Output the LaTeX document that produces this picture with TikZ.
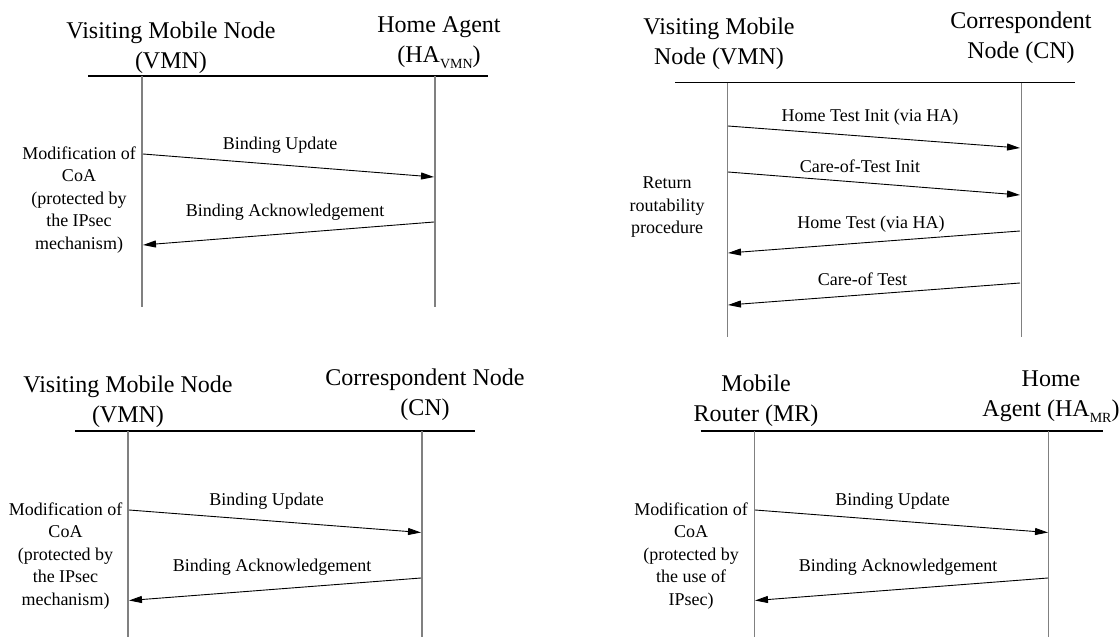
\documentclass[tikz,border=0pt]{standalone}
\usepackage{fontspec}
\setmainfont{Liberation Serif}
\usetikzlibrary{arrows.meta}
\newcommand{\bigfont}{\fontsize{24}{30}\selectfont}
\newcommand{\smallfont}{\fontsize{18}{22.5}\selectfont}
\newcommand{\subtxt}[1]{\raisebox{-6pt}{\fontsize{14}{14}\selectfont #1}}
\tikzset{
  actor/.style={align=center, inner sep=0pt, font=\bigfont},
  note/.style={align=center, inner sep=0pt, font=\smallfont},
  msglabel/.style={inner sep=0pt, font=\smallfont},
  header/.style={draw=black, line width=1.2pt},
  lifeline/.style={draw=black!50, line width=1.4pt},
  msg/.style={draw=black, line width=0.9pt, -{Triangle[length=13pt,width=7pt]}}
}
\begin{document}
\begin{tikzpicture}[x=1pt,y=-1pt]
\useasboundingbox (0,0) rectangle (1119,637);

% ---------------- Panel 1 (top left) ----------------
\node[actor] (p1a) at (171,48) {Visiting Mobile Node\\(VMN)};
\node[actor] (p1b) at (439,43) {Home Agent\\(HA\subtxt{VMN})};
\coordinate (p1hl) at (88,76);
\coordinate (p1hr) at (488,76);
\draw[header] (p1hl) -- (p1hr);
\coordinate (p1at) at (142,76);
\coordinate (p1ab) at (142,307);
\coordinate (p1bt) at (435,76);
\coordinate (p1bb) at (435,307);
\draw[lifeline] (p1at) -- (p1ab);
\draw[lifeline] (p1bt) -- (p1bb);
\node[note] (p1n) at (79,200) {Modification of\\CoA\\(protected by\\the IPsec\\mechanism)};
\coordinate (p1m1s) at (143,154);
\coordinate (p1m1e) at (434,177);
\coordinate (p1m2s) at (434,222);
\coordinate (p1m2e) at (143,245);
\draw[msg] (p1m1s) -- (p1m1e);
\draw[msg] (p1m2s) -- (p1m2e);
\node[msglabel] (p1l1) at (280,145.5) {Binding Update};
\node[msglabel] (p1l2) at (285,212.5) {Binding Acknowledgement};

% ---------------- Panel 2 (top right) ----------------
\node[actor] (p2a) at (719,44) {Visiting Mobile\\Node (VMN)};
\node[actor] (p2b) at (1021,38) {Correspondent\\Node (CN)};
\coordinate (p2hl) at (675,82.5);
\coordinate (p2hr) at (1075,82.5);
\draw[header] (p2hl) -- (p2hr);
\coordinate (p2at) at (727.5,82.5);
\coordinate (p2ab) at (727.5,337);
\coordinate (p2bt) at (1021.5,82.5);
\coordinate (p2bb) at (1021.5,337);
\draw[lifeline] (p2at) -- (p2ab);
\draw[lifeline] (p2bt) -- (p2bb);
\node[note] (p2n) at (667,207.5) {Return\\routability\\procedure};
\coordinate (p2m1s) at (728,126);
\coordinate (p2m1e) at (1020,148);
\coordinate (p2m2s) at (728,172);
\coordinate (p2m2e) at (1020,195);
\coordinate (p2m3s) at (1020,231);
\coordinate (p2m3e) at (728,253);
\coordinate (p2m4s) at (1020,283);
\coordinate (p2m4e) at (728,305);
\draw[msg] (p2m1s) -- (p2m1e);
\draw[msg] (p2m2s) -- (p2m2e);
\draw[msg] (p2m3s) -- (p2m3e);
\draw[msg] (p2m4s) -- (p2m4e);
\node[msglabel] (p2l1) at (870,117) {Home Test Init (via HA)};
\node[msglabel] (p2l2) at (860,166) {Care-of-Test Init};
\node[msglabel] (p2l3) at (871,224) {Home Test (via HA)};
\node[msglabel] (p2l4) at (862.5,279) {Care-of Test};

% ---------------- Panel 3 (bottom left) ----------------
\node[actor] (p3a) at (128,402) {Visiting Mobile Node\\(VMN)};
\node[actor] (p3b) at (425,394.5) {Correspondent Node\\(CN)};
\coordinate (p3hl) at (75,431);
\coordinate (p3hr) at (475,431);
\draw[header] (p3hl) -- (p3hr);
\coordinate (p3at) at (128,431);
\coordinate (p3ab) at (128,637);
\coordinate (p3bt) at (422,431);
\coordinate (p3bb) at (422,637);
\draw[lifeline] (p3at) -- (p3ab);
\draw[lifeline] (p3bt) -- (p3bb);
\node[note] (p3n) at (65.5,556) {Modification of\\CoA\\(protected by\\the IPsec\\mechanism)};
\coordinate (p3m1s) at (129,510);
\coordinate (p3m1e) at (421,532.5);
\coordinate (p3m2s) at (421,578);
\coordinate (p3m2e) at (129,600.5);
\draw[msg] (p3m1s) -- (p3m1e);
\draw[msg] (p3m2s) -- (p3m2e);
\node[msglabel] (p3l1) at (266.5,501) {Binding Update};
\node[msglabel] (p3l2) at (272,567) {Binding Acknowledgement};

% ---------------- Panel 4 (bottom right) ----------------
\node[actor] (p4a) at (756,400.5) {Mobile\\Router (MR)};
\node[actor] (p4b) at (1051,397) {Home\\Agent (HA\subtxt{MR})};
\coordinate (p4hl) at (700.5,431);
\coordinate (p4hr) at (1103,431);
\draw[header] (p4hl) -- (p4hr);
\coordinate (p4at) at (754.5,431);
\coordinate (p4ab) at (754.5,637);
\coordinate (p4bt) at (1048.5,431);
\coordinate (p4bb) at (1048.5,637);
\draw[lifeline] (p4at) -- (p4ab);
\draw[lifeline] (p4bt) -- (p4bb);
\node[note] (p4n) at (691,556) {Modification of\\CoA\\(protected by\\the use of\\IPsec)};
\coordinate (p4m1s) at (755,510);
\coordinate (p4m1e) at (1048,532.5);
\coordinate (p4m2s) at (1048,578);
\coordinate (p4m2e) at (755,600.5);
\draw[msg] (p4m1s) -- (p4m1e);
\draw[msg] (p4m2s) -- (p4m2e);
\node[msglabel] (p4l1) at (892.5,501) {Binding Update};
\node[msglabel] (p4l2) at (898,567) {Binding Acknowledgement};
\end{tikzpicture}
\end{document}
